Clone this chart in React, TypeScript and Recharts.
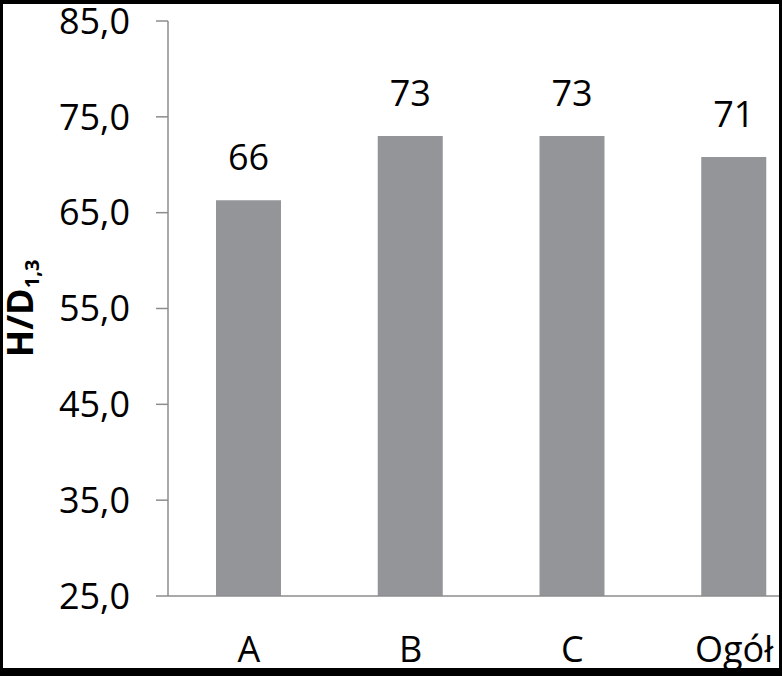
import React from 'react';
import { BarChart, Bar, XAxis, YAxis, LabelList } from 'recharts';

const categories = ['A', 'B', 'C', 'Ogół'];
const values = [66.3, 73.0, 73.0, 70.8];
const yTicks = [25, 35, 45, 55, 65, 75, 85];

const data = categories.map((c, i) => ({ name: c, value: values[i] }));

const FONT = "'Open Sans', sans-serif";
const AXIS = '#8c8c8c';

function YLabel(props: any) {
  const vb = props.viewBox || { x: 0, y: 17, width: 165, height: 575 };
  const bx = vb.x + 30;
  const cy = vb.y + vb.height / 2;
  return (
    <text
      x={bx}
      y={cy}
      transform={`rotate(-90, ${bx}, ${cy})`}
      textAnchor="middle"
      fontFamily={FONT}
      fontWeight="bold"
      fontSize={36}
      fill="#000"
    >
      H/D<tspan fontSize={20} dy={6}>1,3</tspan>
    </text>
  );
}

export default function App() {
  return (
    <div style={{ position: 'fixed', left: 0, top: 0, width: 782, height: 676, background: '#000', overflow: 'hidden' }}>
      <div style={{ position: 'absolute', left: 3, top: 4, width: 776, height: 664, background: '#fff', overflow: 'hidden' }}>
        <BarChart
          width={830}
          height={664}
          data={data}
          margin={{ top: 17, right: 18, left: 0, bottom: 0 }}
          barSize={65}
        >
          <YAxis
            width={165}
            domain={[25, 85]}
            ticks={yTicks}
            interval={0}
            tickFormatter={(v: number) => v.toFixed(1).replace('.', ',')}
            axisLine={{ stroke: AXIS, strokeWidth: 1.5 }}
            tickLine={{ stroke: AXIS, strokeWidth: 1.5 }}
            tickSize={12}
            tickMargin={26}
            tick={{ fontSize: 36, fill: '#000', fontFamily: FONT }}
            label={<YLabel />}
          />
          <XAxis
            dataKey="name"
            height={72}
            tickLine={false}
            tickSize={0}
            tickMargin={40}
            axisLine={{ stroke: AXIS, strokeWidth: 1.5 }}
            tick={{ fontSize: 36, fill: '#000', fontFamily: FONT }}
            interval={0}
          />
          <Bar dataKey="value" fill="#939598" isAnimationActive={false}>
            <LabelList
              dataKey="value"
              position="top"
              offset={30}
              formatter={(v: number) => String(Math.round(v))}
              style={{ fontSize: 36, fill: '#000', fontFamily: FONT }}
            />
          </Bar>
        </BarChart>
      </div>
    </div>
  );
}
